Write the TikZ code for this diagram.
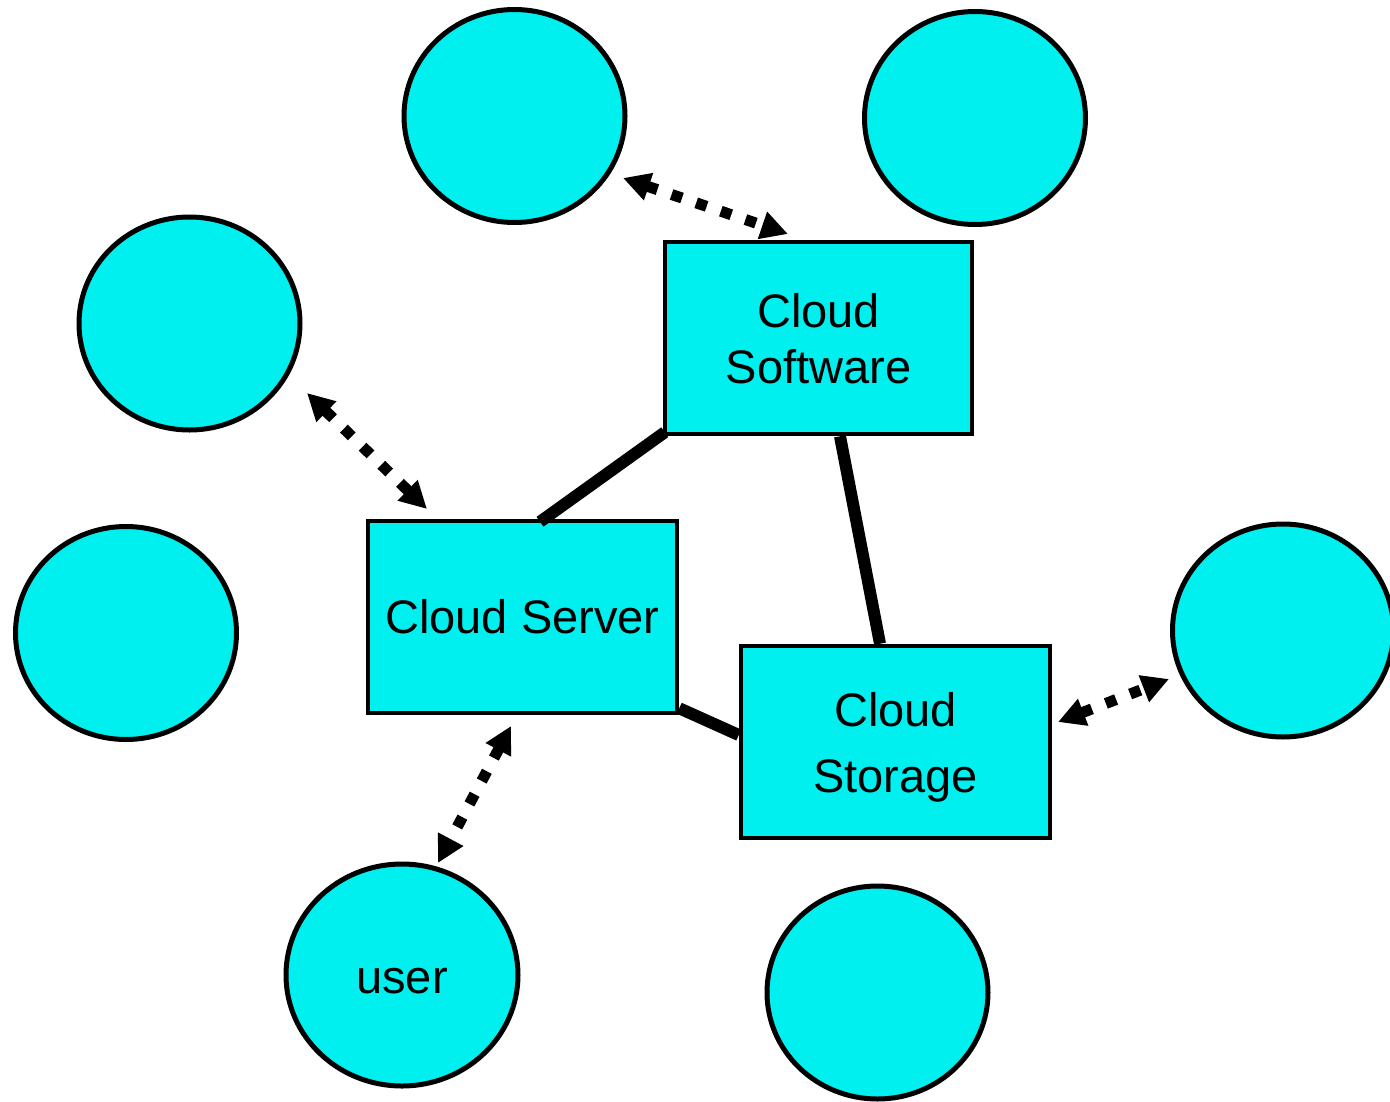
\documentclass[tikz,border=0pt]{standalone}
\usepackage{fontspec}
\setmainfont{Liberation Sans}
\usetikzlibrary{shapes.geometric,arrows.meta,calc}
\definecolor{cyanfill}{RGB}{0,240,240}
\begin{document}
\begin{tikzpicture}[x=1pt,y=-1pt,
  blob/.style={ellipse,draw=black,line width=5pt,fill=cyanfill,inner sep=0pt,
    minimum width=221pt,minimum height=213pt,font=\fontsize{47}{57}\selectfont},
  box/.style={rectangle,draw=black,line width=4.5pt,fill=cyanfill,inner sep=0pt,
    minimum width=307pt,minimum height=192pt,align=center},
  link/.style={line width=12pt},
  dotarrow/.style={line width=11pt,dash pattern=on 11pt off 15pt,
    {Triangle[length=27pt,width=27pt]}-{Triangle[length=27pt,width=27pt]}}
]
\useasboundingbox (0,0) rectangle (1390,1101);
% circles
\node[blob] (c1) at (514.5,116) {};
\node[blob] (c2) at (975,118) {};
\node[blob] (c3) at (189.5,323.5) {};
\node[blob] (c4) at (126,633) {};
\node[blob] (c5) at (1283,630.5) {};
\node[blob,minimum width=232pt,minimum height=222pt,text height=36pt,text depth=0pt] (user) at (402,975) {user};
\node[blob] (c7) at (877.5,992.5) {};
% boxes
\node[box,font=\fontsize{47}{56}\selectfont,text depth=0pt] (soft) at (818.5,338) {Cloud\\Software};
\node[box,minimum width=309pt,font=\fontsize{47}{57}\selectfont] (srv) at (522.5,617) {Cloud Server};
\node[box,minimum width=309pt,font=\fontsize{47}{66}\selectfont,text depth=0pt] (stor) at (895.5,742) {Cloud\\Storage};
% thick links
\draw[link] ([xshift=2pt,yshift=4pt]soft.south west) -- ([xshift=17.5pt,yshift=-3pt]srv.north);
\draw[link] ([xshift=21.5pt]soft.south) -- ([xshift=-15.5pt]stor.north);
\draw[link] ([yshift=7pt]srv.south east) -- ([yshift=7pt]stor.west);
% dotted arrows
\coordinate (a1) at (623,178);
\coordinate (b1) at (788,234);
\coordinate (a2) at (307,393);
\coordinate (b2) at (427,509);
\coordinate (a3) at (511,726);
\coordinate (b3) at (438,863);
\coordinate (a4) at (1058,722);
\coordinate (b4) at (1169,679);
\draw[dotarrow] (a1) -- (b1);
\draw[dotarrow] (a2) -- (b2);
\draw[dotarrow] (a3) -- (b3);
\draw[dotarrow] (a4) -- (b4);
\end{tikzpicture}
\end{document}
